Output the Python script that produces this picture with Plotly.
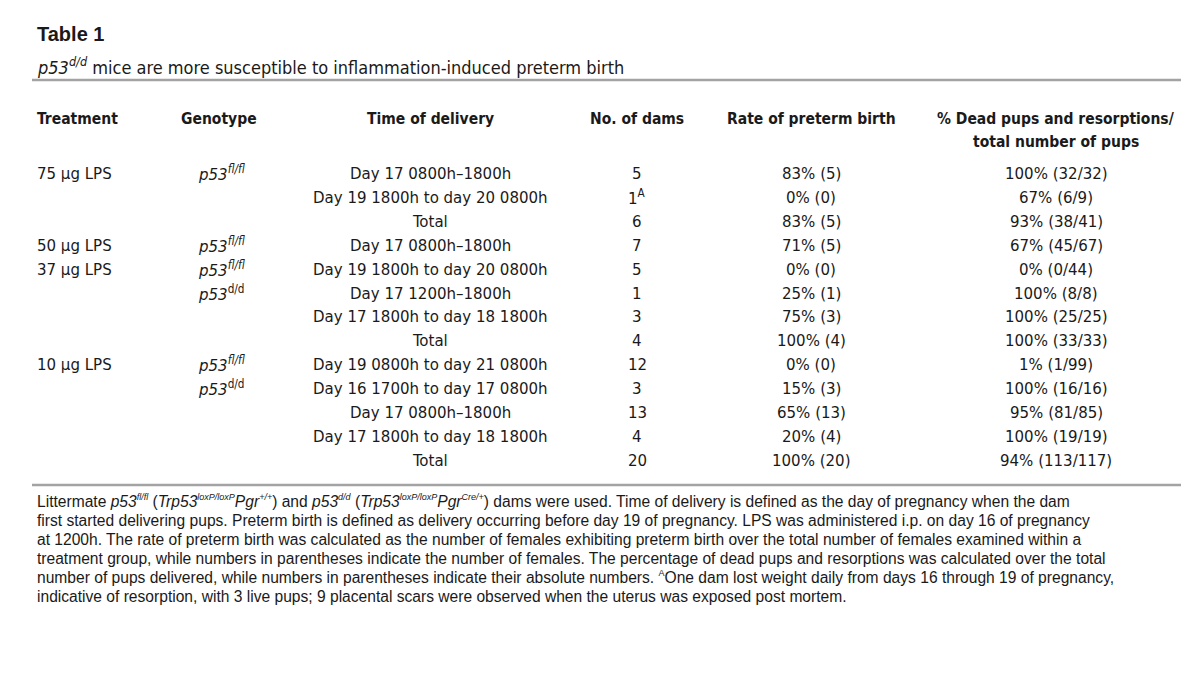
import plotly.graph_objects as go

# ---------------- data ----------------
title = "Table 1"
subtitle = "<i>p53<sup>d/d</sup></i> mice are more susceptible to inflammation-induced preterm birth"

headers = ["Treatment", "Genotype", "Time of delivery", "No. of dams",
           "Rate of preterm birth", "% Dead pups and resorptions/<br>total number of pups"]

treatment = ["75 µg LPS", "", "", "50 µg LPS", "37 µg LPS", "", "", "",
             "10 µg LPS", "", "", "", ""]
genotype = ["<i>p53<sup>fl/fl</sup></i>", "", "", "<i>p53<sup>fl/fl</sup></i>",
            "<i>p53<sup>fl/fl</sup></i>", "<i>p53</i><sup>d/d</sup>", "", "",
            "<i>p53<sup>fl/fl</sup></i>", "<i>p53</i><sup>d/d</sup>", "", "", ""]
time_of_delivery = ["Day 17 0800h–1800h", "Day 19 1800h to day 20 0800h", "Total",
                    "Day 17 0800h–1800h", "Day 19 1800h to day 20 0800h",
                    "Day 17 1200h–1800h", "Day 17 1800h to day 18 1800h", "Total",
                    "Day 19 0800h to day 21 0800h", "Day 16 1700h to day 17 0800h",
                    "Day 17 0800h–1800h", "Day 17 1800h to day 18 1800h", "Total"]
no_of_dams = ["5", "1<sup>A</sup>", "6", "7", "5", "1", "3", "4", "12", "3", "13", "4", "20"]
rate_preterm = ["83% (5)", "0% (0)", "83% (5)", "71% (5)", "0% (0)", "25% (1)",
                "75% (3)", "100% (4)", "0% (0)", "15% (3)", "65% (13)", "20% (4)",
                "100% (20)"]
dead_pups = ["100% (32/32)", "67% (6/9)", "93% (38/41)", "67% (45/67)", "0% (0/44)",
             "100% (8/8)", "100% (25/25)", "100% (33/33)", "1% (1/99)",
             "100% (16/16)", "95% (81/85)", "100% (19/19)", "94% (113/117)"]


def sup(s):
    return "<sup><span style='font-size:9px'>" + s + "</span></sup>"


footnote_lines = [
    "Littermate <i>p53" + sup("fl/fl") + "</i> (<i>Trp53" + sup("loxP/loxP") + "Pgr" + sup("+/+")
    + "</i>) and <i>p53" + sup("d/d") + "</i> (<i>Trp53" + sup("loxP/loxP") + "Pgr" + sup("Cre/+")
    + "</i>) dams were used. Time of delivery is defined as the day of pregnancy when the dam",
    "first started delivering pups. Preterm birth is defined as delivery occurring before day 19 of "
    "pregnancy. LPS was administered i.p. on day 16 of pregnancy",
    "at 1200h. The rate of preterm birth was calculated as the number of females exhibiting preterm "
    "birth over the total number of females examined within a",
    "treatment group, while numbers in parentheses indicate the number of females. The percentage of "
    "dead pups and resorptions was calculated over the total",
    "number of pups delivered, while numbers in parentheses indicate their absolute numbers. "
    + sup("A") + "One dam lost weight daily from days 16 through 19 of pregnancy,",
    "indicative of resorption, with 3 live pups; 9 placental scars were observed when the uterus was "
    "exposed post mortem.",
]

# ---------------- layout / style ----------------
W, H = 1200, 685
COND = "DejaVu Sans Condensed, Liberation Sans Narrow, Arial Narrow, sans-serif"
REG = "Liberation Sans, Arial, Helvetica, sans-serif"
INK = "#1a1a1a"
RULE = "#a3a3a3"

col_x = [28, 189, 422, 629, 803, 1048]          # anchor x of each column
col_anchor = ["left", "left", "center", "center", "center", "center"]
header_x = [28, 211, 422, 629, 803, 1048]
header_anchor = ["left", "center", "center", "center", "center", "center"]
header_y = 111
row_y0, row_dy = 165, 23.9
foot_y0, foot_dy = 493, 19

annotations = []

def add(text, x, y, anchor="left", size=17, color=INK, family=COND):
    annotations.append(dict(
        text=text, x=x, y=y, xref="x", yref="y", xanchor=anchor, yanchor="middle",
        showarrow=False, align=anchor if anchor != "center" else "center",
        borderpad=0, font=dict(family=family, size=size, color=color)))

add("<b>" + title + "</b>", 28, 26, size=20, family=REG)
add(subtitle, 28, 58, size=18)

for j, h in enumerate(headers):
    parts = h.split("<br>")
    for k, p in enumerate(parts):
        add("<b>" + p + "</b>", header_x[j], header_y + k * 23, header_anchor[j], size=15.5)

columns = [treatment, genotype, time_of_delivery, no_of_dams, rate_preterm, dead_pups]
for j, col in enumerate(columns):
    for i, val in enumerate(col):
        if val:
            add(val, col_x[j], row_y0 + i * row_dy, col_anchor[j], size=16.7)

for k, line in enumerate(footnote_lines):
    add(line, 28, foot_y0 + k * foot_dy, "left", size=15.6, family=REG)

shapes = [
    dict(type="line", xref="x", yref="y", x0=24, x1=1173, y0=72, y1=72,
         line=dict(color=RULE, width=2.7)),
    dict(type="line", xref="x", yref="y", x0=24, x1=1173, y0=477, y1=477,
         line=dict(color=RULE, width=2.7)),
]

fig = go.Figure()
fig.update_layout(
    width=W, height=H, margin=dict(l=0, r=0, t=0, b=0),
    paper_bgcolor="white", plot_bgcolor="white",
    xaxis=dict(range=[0, W], visible=False, fixedrange=True),
    yaxis=dict(range=[H, 0], visible=False, fixedrange=True),
    annotations=annotations, shapes=shapes, showlegend=False,
)

fig.write_html("out.html")
